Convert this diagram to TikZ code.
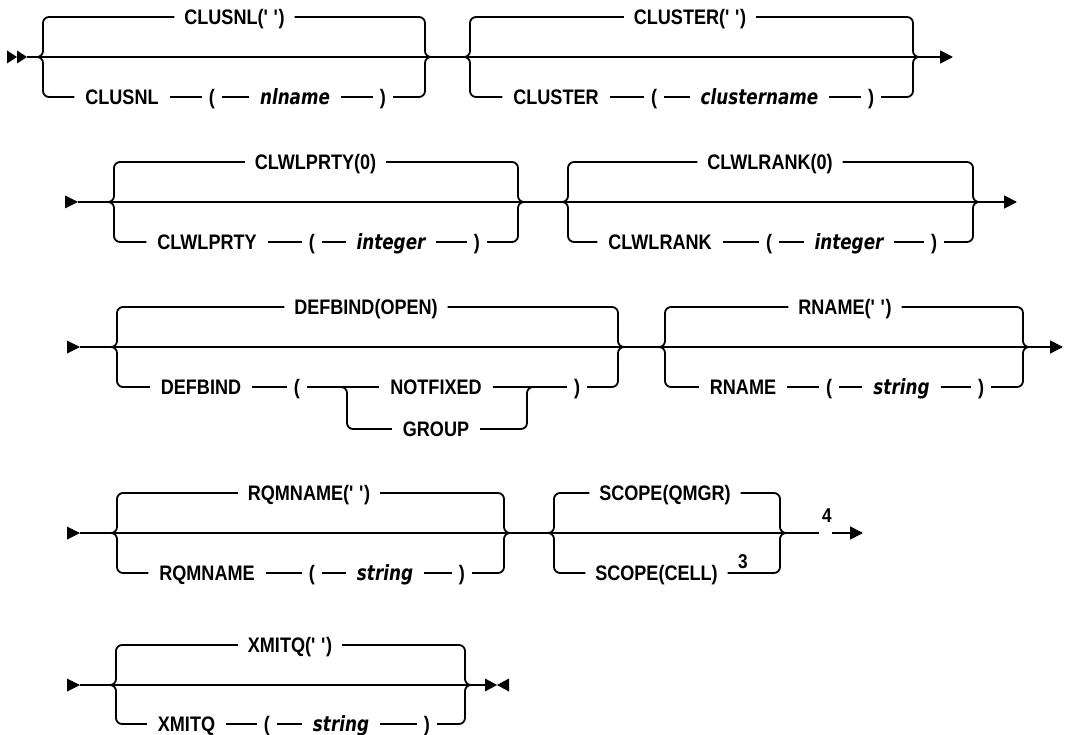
\documentclass[tikz,border=0pt]{standalone}
\usepackage{fontspec}
\setmainfont{Liberation Sans}[FakeStretch=0.86]
\newfontfamily\varfont{DejaVu Sans}[FakeStretch=0.8]
\usetikzlibrary{arrows.meta}
\newcommand\grtop[5]{%
  \draw[brace] ({#1-8},#4) -| (#1,#3) -- (#5.west);
  \draw[brace] (#5.east) -- (#2,#3) |- ({#2+8},#4);}
\newcommand\grbotL[4]{\draw[brace] ({#1-8},#3) -| (#1,#2) -- (#4.west);}
\newcommand\grbotR[4]{\draw[brace] (#4.east) -- (#1,#2) |- ({#1+8},#3);}
\newcommand\rseg[2]{\draw[rail] (#1.east) -- (#2.west);}
\newcommand\qq{(\textquotesingle\ \textquotesingle)}
\begin{document}
\begin{tikzpicture}[x=1pt,y=-1pt,
  rail/.style={line width=1.8pt},
  brace/.style={rail,rounded corners=6pt},
  kw/.style={font=\fontsize{21}{24}\selectfont\bfseries, text height=15pt, text depth=0pt, inner sep=0pt, outer xsep=11pt},
  dflt/.style={kw, outer xsep=10pt},
  par/.style={kw, outer xsep=7pt},
  var/.style={kw, font=\varfont\bfseries\itshape\fontsize{21}{24}\selectfont},
  fnote/.style={font=\fontsize{20}{22}\selectfont\bfseries, inner sep=0pt},
  endtip/.style={-{Triangle[length=13pt,width=13pt]}}]
\fill[white] (0,0) rectangle (1065,735);
\useasboundingbox (0,0) rectangle (1065,735);

% ---------------- Row 1 ----------------
\fill (7,50.5) -- (17,57) -- (7,63.5) -- cycle;
\fill (17,50.5) -- (27,57) -- (17,63.5) -- cycle;
\coordinate (s1) at (27,57);
\coordinate (e1) at (953,57);
\draw[rail,endtip] (s1) -- (e1);
\node[dflt] (r1t1) at (234.5,17) {CLUSNL\qq};
\node[kw]  (r1a) at (122,97) {CLUSNL};
\node[par] (r1b) at (212,97) {(};
\node[var] (r1c) at (295,97) {nlname};
\node[par] (r1d) at (383,97) {)};
\grtop{43}{425}{17}{57}{r1t1}
\grbotL{43}{97}{57}{r1a}
\rseg{r1a}{r1b}\rseg{r1b}{r1c}\rseg{r1c}{r1d}
\grbotR{425}{97}{57}{r1d}

\node[dflt] (r1t2) at (690,17) {CLUSTER\qq};
\node[kw]  (r1e) at (556,97) {CLUSTER};
\node[par] (r1f) at (654,97) {(};
\node[var] (r1g) at (759.5,97) {clustername};
\node[par] (r1h) at (871,97) {)};
\grtop{470}{913}{17}{57}{r1t2}
\grbotL{470}{97}{57}{r1e}
\rseg{r1e}{r1f}\rseg{r1f}{r1g}\rseg{r1g}{r1h}
\grbotR{913}{97}{57}{r1h}

% ---------------- Row 2 ----------------
\fill (65,195.5) -- (78,202) -- (65,208.5) -- cycle;
\coordinate (s2) at (78,202);
\coordinate (e2) at (1017,202);
\draw[rail,endtip] (s2) -- (e2);
\node[dflt] (r2t1) at (315.5,162) {CLWLPRTY(0)};
\node[kw]  (r2a) at (207,242) {CLWLPRTY};
\node[par] (r2b) at (312,242) {(};
\node[var] (r2c) at (391,242) {integer};
\node[par] (r2d) at (477,242) {)};
\grtop{114}{518}{162}{202}{r2t1}
\grbotL{114}{242}{202}{r2a}
\rseg{r2a}{r2b}\rseg{r2b}{r2c}\rseg{r2c}{r2d}
\grbotR{518}{242}{202}{r2d}

\node[dflt] (r2t2) at (770,162) {CLWLRANK(0)};
\node[kw]  (r2e) at (660,242) {CLWLRANK};
\node[par] (r2f) at (769,242) {(};
\node[var] (r2g) at (849,242) {integer};
\node[par] (r2h) at (934,242) {)};
\grtop{568}{973}{162}{202}{r2t2}
\grbotL{568}{242}{202}{r2e}
\rseg{r2e}{r2f}\rseg{r2f}{r2g}\rseg{r2g}{r2h}
\grbotR{973}{242}{202}{r2h}

% ---------------- Row 3 ----------------
\fill (67,340.5) -- (80,347) -- (67,353.5) -- cycle;
\coordinate (s3) at (80,347);
\coordinate (e3) at (1063,347);
\draw[rail,endtip] (s3) -- (e3);
\node[dflt] (r3t1) at (366,307) {DEFBIND(OPEN)};
\node[kw]  (r3a) at (201,387) {DEFBIND};
\node[par] (r3b) at (297,387) {(};
\node[kw]  (r3c) at (436,387) {NOTFIXED};
\node[kw]  (r3g) at (436,429) {GROUP};
\node[par] (r3d) at (577,387) {)};
\grtop{117}{618}{307}{347}{r3t1}
\grbotL{117}{387}{347}{r3a}
\rseg{r3a}{r3b}\rseg{r3b}{r3c}\rseg{r3c}{r3d}
\draw[brace] (339,387) -| (347,429) -- (r3g.west);
\draw[brace] (r3g.east) -- (527,429) |- (535,387);
\grbotR{618}{387}{347}{r3d}

\node[dflt] (r3t2) at (845,307) {RNAME\qq};
\node[kw]  (r3e) at (743,387) {RNAME};
\node[par] (r3f) at (829,387) {(};
\node[var] (r3h) at (901.5,387) {string};
\node[par] (r3i) at (981,387) {)};
\grtop{665}{1023}{307}{347}{r3t2}
\grbotL{665}{387}{347}{r3e}
\rseg{r3e}{r3f}\rseg{r3f}{r3h}\rseg{r3h}{r3i}
\grbotR{1023}{387}{347}{r3i}

% ---------------- Row 4 (RQMNAME / SCOPE) ----------------
\fill (67,526.5) -- (80,533) -- (67,539.5) -- cycle;
\coordinate (s5) at (80,533);
\coordinate (m5) at (819,533);
\draw[rail] (s5) -- (m5);
\node[dflt] (r5t1) at (309,493) {RQMNAME\qq};
\node[kw]  (r5a) at (207,573) {RQMNAME};
\node[par] (r5b) at (312,573) {(};
\node[var] (r5c) at (385,573) {string};
\node[par] (r5d) at (462,573) {)};
\grtop{117}{504}{493}{533}{r5t1}
\grbotL{117}{573}{533}{r5a}
\rseg{r5a}{r5b}\rseg{r5b}{r5c}\rseg{r5c}{r5d}
\grbotR{504}{573}{533}{r5d}

\node[dflt] (r5t2) at (665,493) {SCOPE(QMGR)};
\node[dflt] (r5e) at (656.5,573) {SCOPE(CELL)};
\node[fnote] (n3) at (743,562) {3};
\grtop{554}{780}{493}{533}{r5t2}
\grbotL{554}{573}{533}{r5e}
\grbotR{780}{573}{533}{r5e}
\node[fnote] (n4) at (827,516) {4};
\coordinate (c5) at (832,533);
\coordinate (e5) at (863,533);
\draw[rail,endtip] (c5) -- (e5);

% ---------------- Row 5 (XMITQ) ----------------
\fill (67,678.5) -- (80,685) -- (67,691.5) -- cycle;
\coordinate (s6) at (80,685);
\coordinate (e6) at (485,685);
\draw[rail] (s6) -- (e6);
\fill (485,678.5) -- (497,685) -- (485,691.5) -- cycle;
\fill (509,678.5) -- (497,685) -- (509,691.5) -- cycle;
\node[dflt] (r6t1) at (290,645) {XMITQ\qq};
\node[kw]  (r6a) at (186.5,724) {XMITQ};
\node[par] (r6b) at (267,724) {(};
\node[var] (r6c) at (341,724) {string};
\node[par] (r6d) at (427,724) {)};
\grtop{116}{465}{645}{685}{r6t1}
\grbotL{116}{724}{685}{r6a}
\rseg{r6a}{r6b}\rseg{r6b}{r6c}\rseg{r6c}{r6d}
\grbotR{465}{724}{685}{r6d}
\end{tikzpicture}
\end{document}
